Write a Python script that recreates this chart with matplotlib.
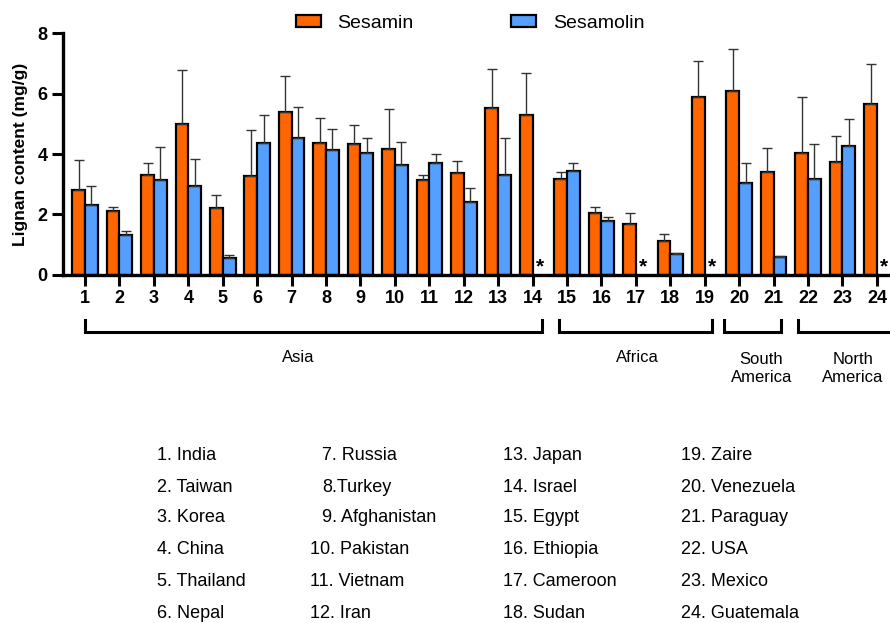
import numpy as np
import matplotlib.pyplot as plt
from matplotlib.patches import Patch

# country numbers 1..24
countries = list(range(1, 25))
sesamin = [2.81, 2.11, 3.31, 4.99, 2.20, 3.26, 5.38, 4.36, 4.33, 4.15, 3.15, 3.36,
           5.53, 5.30, 3.16, 2.05, 1.70, 1.13, 5.89, 6.09, 3.42, 4.03, 3.73, 5.66]
sesamin_err = [0.99, 0.13, 0.39, 1.78, 0.45, 1.52, 1.20, 0.82, 0.62, 1.33, 0.17, 0.41,
               1.27, 1.37, 0.25, 0.19, 0.35, 0.21, 1.20, 1.38, 0.78, 1.87, 0.86, 1.33]
sesamolin = [2.33, 1.32, 3.15, 2.95, 0.56, 4.35, 4.52, 4.14, 4.02, 3.62, 3.70, 2.41,
             3.30, 0.0, 3.44, 1.79, 0.0, 0.71, 0.0, 3.04, 0.59, 3.18, 4.25, 0.0]
sesamolin_err = [0.62, 0.13, 1.07, 0.89, 0.10, 0.95, 1.03, 0.70, 0.50, 0.78, 0.30, 0.45,
                 1.24, 0.0, 0.26, 0.13, 0.0, 0.03, 0.0, 0.65, 0.04, 1.16, 0.91, 0.0]

regions = ['Asia', 'Africa', 'South\nAmerica', 'North\nAmerica']
region_spans = [(1.0, 14.26), (14.77, 19.21), (19.56, 21.21), (21.71, 24.5)]
region_label_x = [7.2, 17.05, 20.65, 23.3]

country_names = ['India', 'Taiwan', 'Korea', 'China', 'Thailand', 'Nepal',
                 'Russia', 'Turkey', 'Afghanistan', 'Pakistan', 'Vietnam', 'Iran',
                 'Japan', 'Israel', 'Egypt', 'Ethiopia', 'Cameroon', 'Sudan',
                 'Zaire', 'Venezuela', 'Paraguay', 'USA', 'Mexico', 'Guatemala']

orange = '#FF6600'
blue = '#55A0FF'
narrow = ['Liberation Sans Narrow', 'Liberation Sans', 'DejaVu Sans']
plt.rcParams['font.family'] = ['Liberation Sans', 'DejaVu Sans']

fig = plt.figure(figsize=(8.9, 6.23), dpi=100)
ax = fig.add_axes([0.0708, 0.5586, 0.9292, 0.3884])

x = np.array(countries)
w = 0.37
err_kw = dict(ecolor='#333333', elinewidth=1.0, capsize=3.5, capthick=1.0)
ax.bar(x - w / 2, sesamin, w, color=orange, edgecolor='black', linewidth=1.6,
       yerr=[np.zeros(24), sesamin_err], error_kw=err_kw, zorder=2)
mask = np.array(sesamolin) > 0
ax.bar(x[mask] + w / 2, np.array(sesamolin)[mask], w, color=blue, edgecolor='black',
       linewidth=1.6, yerr=[np.zeros(mask.sum()), np.array(sesamolin_err)[mask]],
       error_kw=err_kw, zorder=2)
# not detected
for xi in x[~mask]:
    ax.text(xi + 0.2, 0.28, '*', ha='center', va='center', fontsize=15,
            fontweight='bold', clip_on=False)

ax.set_xlim(0.36, 24.38)
ax.set_ylim(0, 8)
ax.set_xticks(x)
ax.set_xticklabels([str(c) for c in countries], fontfamily=narrow,
                   fontweight='bold', fontsize=13)
ax.set_yticks([0, 2, 4, 6, 8])
ax.set_yticklabels(['0', '2', '4', '6', '8'], fontfamily=narrow,
                   fontweight='bold', fontsize=13)
ax.tick_params(axis='both', width=2.2, length=8, pad=3)
for s in ['top', 'right']:
    ax.spines[s].set_visible(False)
for s in ['left', 'bottom']:
    ax.spines[s].set_linewidth(2.4)
ax.set_ylabel('Lignan content (mg/g)', fontsize=12.5, fontweight='bold', labelpad=7)

# region brackets
tr = ax.get_xaxis_transform()
for (a, b), name, lx in zip(region_spans, regions, region_label_x):
    ax.plot([a, a, b, b], [-0.186, -0.236, -0.236, -0.186], color='black',
            lw=2.2, transform=tr, clip_on=False, solid_joinstyle='miter')
    ly = -0.343 if '\n' not in name else -0.385
    ax.text(lx, ly, name, transform=tr, ha='center', va='center', fontsize=12,
            linespacing=1.25)

# legend
handles = [Patch(facecolor=orange, edgecolor='black', linewidth=1.6),
           Patch(facecolor=blue, edgecolor='black', linewidth=1.6)]
fig.legend(handles, ['Sesamin', 'Sesamolin'], loc='center', ncol=2,
           bbox_to_anchor=(0.528, 0.963), frameon=False, fontsize=14,
           handlelength=1.3, handleheight=0.6, columnspacing=5.0, handletextpad=0.85)

# country key
col_x = [157, 310, 503, 681]
row_y = [455, 487, 518, 550, 582, 613]
for i, name in enumerate(country_names):
    col, row = divmod(i, 6)
    num = i + 1
    label = f'{num}.{name}' if num == 8 else f'{num}. {name}'
    xx = col_x[col]
    if col == 1 and num < 10:
        xx = 322
    fig.text(xx / 890, 1 - row_y[row] / 623, label, ha='left', va='center',
             fontsize=13)

fig.savefig('out.png', dpi=100)
